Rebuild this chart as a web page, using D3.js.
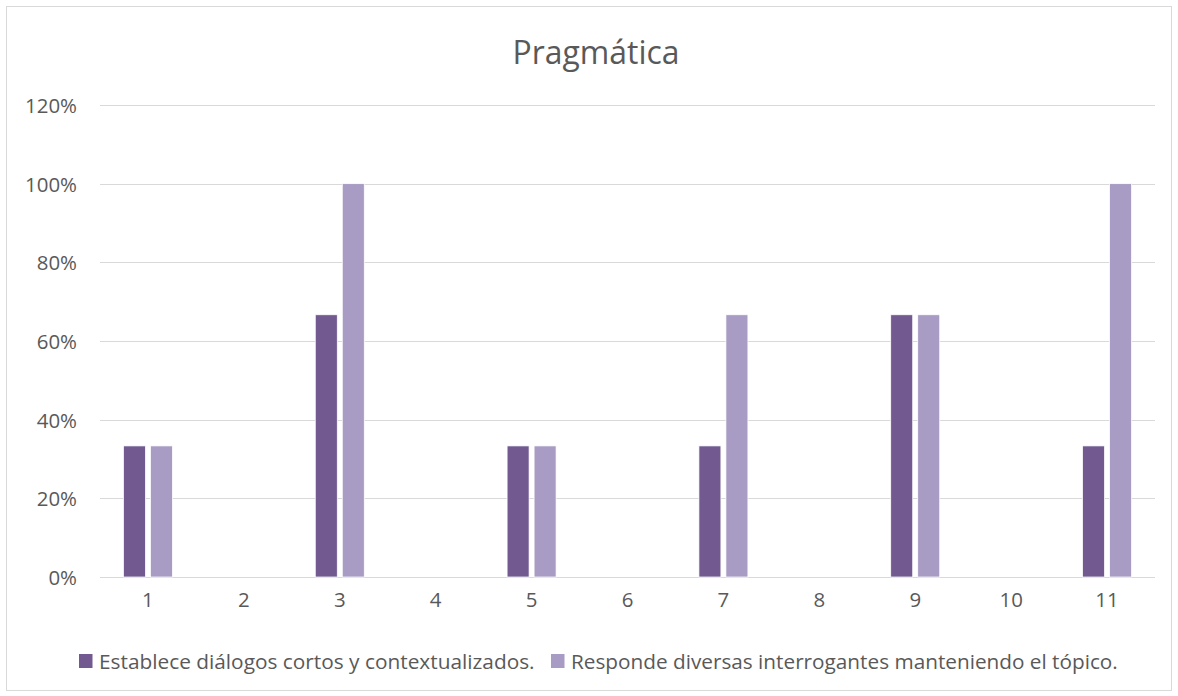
<!DOCTYPE html>
<html>
<head>
<meta charset="utf-8">
<script src="https://d3js.org/d3.v7.min.js"></script>
<style>
body { margin: 0; background: #fff; }
text { font-family: "Open Sans", sans-serif; fill: #595959; }
</style>
</head>
<body>
<div id="chart"></div>
<script>
var categories = ["1","2","3","4","5","6","7","8","9","10","11"];
var seriesNames = ["Establece diálogos cortos y contextualizados.", "Responde diversas interrogantes manteniendo el tópico."];
var establece = [0.3333, 0, 0.6667, 0, 0.3333, 0, 0.3333, 0, 0.6667, 0, 0.3333];
var responde  = [0.3333, 0, 1.0, 0, 0.3333, 0, 0.6667, 0, 0.6667, 0, 1.0];
var yTicks = [0, 0.2, 0.4, 0.6, 0.8, 1.0, 1.2];
var colors = ["#725a91", "#a99cc4"];

var W = 1178, H = 696;
var margin = {top: 105, right: 23, bottom: 119, left: 100};

// scale a text's font so it spans the wanted width (Calibri is not installed)
function fitFont(sel, target) {
    sel.style("font-size", "20px");
    var w = sel.node().getComputedTextLength();
    var fs = 20 * target / w;
    sel.style("font-size", fs + "px");
    return fs;
}

var svg = d3.select("#chart").append("svg")
    .attr("width", W).attr("height", H);

svg.append("rect")
    .attr("x", 6.5).attr("y", 6.5)
    .attr("width", W - 13).attr("height", H - 12)
    .attr("fill", "#fff").attr("stroke", "#d9d9d9");

var g = svg.append("g")
    .attr("transform", "translate(" + margin.left + "," + margin.top + ")");

var width = W - margin.left - margin.right,
    height = H - margin.top - margin.bottom;

var x0 = d3.scaleBand().domain(categories).range([0, width]).paddingInner(0.489).paddingOuter(0.2445);
var x1 = d3.scaleBand().domain([0, 1]).range([0, x0.bandwidth()]).paddingInner(5 / 27);
var y = d3.scaleLinear().domain([0, 1.2]).range([height, 0]);

// gridlines
g.append("g").selectAll("line").data(yTicks).enter().append("line")
    .attr("x1", 0).attr("x2", width)
    .attr("y1", function(d) { return Math.round(y(d)) + 0.5; })
    .attr("y2", function(d) { return Math.round(y(d)) + 0.5; })
    .attr("stroke", "#d9d9d9").attr("stroke-width", 1);

var yAxis = d3.axisLeft(y).tickValues(yTicks)
    .tickFormat(d3.format(".0%")).tickSize(0).tickPadding(23);
var ya = g.append("g").call(yAxis);
ya.select(".domain").remove();
ya.attr("font-family", null).attr("font-size", null);
var axisFs = fitFont(ya.selectAll("text").filter(function(d) { return d === 1.2; }), 52);
ya.selectAll("text").style("font-size", axisFs + "px").attr("dy", "0.36em");

var xAxis = d3.axisBottom(x0).tickSize(0).tickPadding(23);
var xa = g.append("g").attr("transform", "translate(0," + height + ")").call(xAxis);
xa.select(".domain").remove();
xa.attr("font-family", null).attr("font-size", null);
xa.selectAll("text").style("font-size", axisFs + "px").attr("dy", "0.36em");

var data = categories.map(function(c, i) { return {cat: c, vals: [establece[i], responde[i]]}; });

var groups = g.selectAll(".grp").data(data).enter().append("g")
    .attr("transform", function(d) { return "translate(" + x0(d.cat) + ",0)"; });

groups.selectAll("rect").data(function(d) { return d.vals.map(function(v, k) { return {k: k, v: v}; }); })
    .enter().filter(function(d) { return d.v > 0; }).append("rect")
    .attr("x", function(d) { return x1(d.k); })
    .attr("width", x1.bandwidth())
    .attr("y", function(d) { return y(d.v); })
    .attr("height", function(d) { return y(0) - y(d.v); })
    .attr("fill", function(d) { return colors[d.k]; })
    .attr("stroke", "#fff").attr("stroke-width", 0.75);

var title = svg.append("text")
    .attr("x", 596).attr("y", 64)
    .attr("text-anchor", "middle")
    .text("Pragmática");
fitFont(title, 167);

// legend
var legendX = [79, 551];
var legendW = [436, 547];
seriesNames.forEach(function(name, i) {
    var item = svg.append("g").attr("transform", "translate(" + legendX[i] + ",661)");
    item.append("rect").attr("x", 0).attr("y", -7).attr("width", 13.5).attr("height", 14).attr("fill", colors[i]);
    var t = item.append("text").attr("x", 20).attr("y", 8).text(name);
    fitFont(t, legendW[i]);
});
</script>
</body>
</html>
